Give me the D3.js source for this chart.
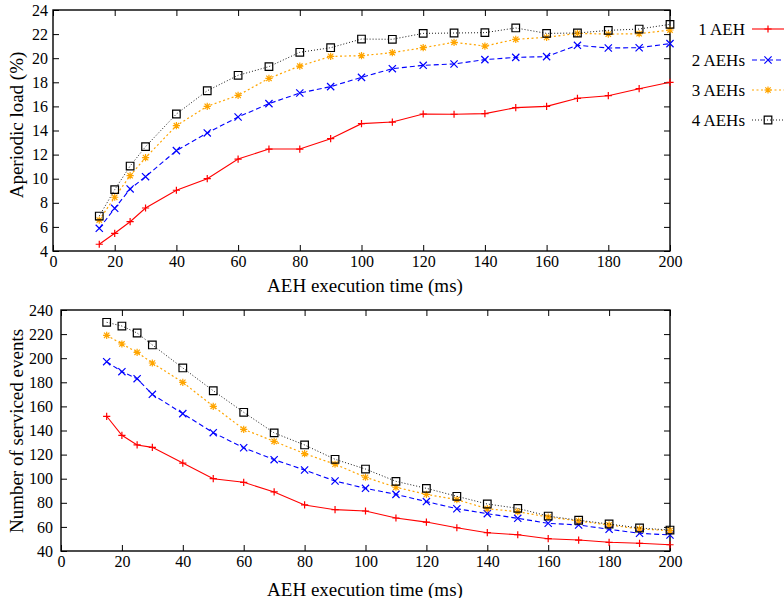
<!DOCTYPE html>
<html><head><meta charset="utf-8">
<script src="https://cdn.jsdelivr.net/npm/d3@7"></script>
<style>
body{margin:0;background:#fff;}
</style></head>
<body><svg id="c" width="784" height="598"></svg>
<script>
const execTimes = [15,20,25,30,40,50,60,70,80,90,100,110,120,130,140,150,160,170,180,190,200];
const seriesNames = ["1 AEH","2 AEHs","3 AEHs","4 AEHs"];
const load1 = [4.56,5.47,6.43,7.57,9.04,10.0,11.63,12.46,12.46,13.32,14.57,14.7,15.37,15.35,15.4,15.9,16.0,16.67,16.89,17.47,18.0];
const load2 = [5.88,7.54,9.15,10.17,12.33,13.8,15.12,16.23,17.11,17.64,18.41,19.13,19.41,19.52,19.88,20.07,20.13,21.07,20.85,20.87,21.21];
const load3 = [6.57,8.46,10.25,11.75,14.4,16.01,16.92,18.33,19.35,20.15,20.21,20.46,20.87,21.32,21.01,21.57,21.73,22.06,22.0,22.03,22.34];
const load4 = [6.9,9.09,11.05,12.66,15.37,17.3,18.58,19.3,20.49,20.87,21.59,21.57,22.06,22.09,22.12,22.51,22.06,22.09,22.31,22.42,22.81];
const events1 = [151.8,136,128,126,113,100,97,89,78.2,74.3,73.2,67.4,64,59.3,55.2,53.5,50.2,49.1,47.2,46.4,45.2];
const events2 = [197.1,188.8,183,170,154,138.2,125.7,115.8,107.2,98.1,92,87,81,75.1,71,67.1,63,61.6,58,54.7,53.3];
const events3 = [219,211.8,204.9,196,180,160.1,141,131,120.8,112,101.2,92.9,87,82.6,75.1,72.6,68.2,64.9,61.6,58.3,56.9];
const events4 = [229.8,226.7,220.9,211,191.9,173,155.1,138,128,116.1,108,97.8,92,85.4,79,75.4,69,65.5,62.4,59.1,57.4];
const xTicks = [0,20,40,60,80,100,120,140,160,180,200];
const loadTicks = [4,6,8,10,12,14,16,18,20,22,24];
const eventTicks = [40,60,80,100,120,140,160,180,200,220,240];

const FONT = "'Liberation Serif', 'Times New Roman', serif";

const styles = [
  {color:"#ff0000", dash:null, marker:"plus", width:1.1},
  {color:"#0000ff", dash:"5,3", marker:"cross", width:1.1},
  {color:"#ffa500", dash:"2,2.5", marker:"star", width:1.2},
  {color:"#000000", dash:"1,2", marker:"box", width:0.9}
];

function markerPath(type){
  const s=3.6;
  if(type==="plus") return `M${-s},0H${s}M0,${-s}V${s}`;
  if(type==="cross") return `M${-s},${-s}L${s},${s}M${-s},${s}L${s},${-s}`;
  if(type==="star") return `M${-s},0H${s}M0,${-s}V${s}M${-s*0.75},${-s*0.75}L${s*0.75},${s*0.75}M${-s*0.75},${s*0.75}L${s*0.75},${-s*0.75}`;
  const b=3.8; return `M${-b},${-b}H${b}V${b}H${-b}Z`;
}

const svg = d3.select("#c");

function drawPanel(cfg){
  const {left,right,top,bottom,yDomain,yTicks,series,yLabel,yLabelCenter,xLabelY,tickLabelGap} = cfg;
  const x = d3.scaleLinear().domain([0,200]).range([left,right]);
  const y = d3.scaleLinear().domain(yDomain).range([bottom,top]);
  const g = svg.append("g");
  const tl = 6;
  const ax = g.append("g");
  ax.append("g").attr("transform",`translate(0,${bottom})`)
    .call(d3.axisBottom(x).tickValues(xTicks).tickSize(-tl).tickPadding(tickLabelGap.x));
  ax.append("g").attr("transform",`translate(0,${top})`)
    .call(d3.axisTop(x).tickValues(xTicks).tickSize(-tl).tickFormat(""));
  ax.append("g").attr("transform",`translate(${left},0)`)
    .call(d3.axisLeft(y).tickValues(yTicks).tickSize(-tl).tickPadding(tickLabelGap.y));
  ax.append("g").attr("transform",`translate(${right},0)`)
    .call(d3.axisRight(y).tickValues(yTicks).tickSize(-tl).tickFormat(""));
  ax.selectAll(".domain").remove();
  ax.selectAll("g").attr("font-family",null);
  ax.selectAll(".tick line").attr("stroke","#000").attr("stroke-width",1);
  ax.selectAll(".tick text").attr("font-size",16).style("font-family",FONT).attr("fill","#000");
  g.append("rect").attr("x",left).attr("y",top).attr("width",right-left).attr("height",bottom-top)
    .attr("fill","none").attr("stroke","#000").attr("stroke-width",1.4);

  const line = d3.line().x((d,i)=>x(execTimes[i])).y(d=>y(d));
  series.forEach((vals,si)=>{
    const st = styles[si];
    g.append("path").datum(vals).attr("d",line).attr("fill","none")
      .attr("stroke",st.color).attr("stroke-width",st.width)
      .attr("stroke-dasharray",st.dash);
    g.selectAll(null).data(vals).enter().append("path")
      .attr("transform",(d,i)=>`translate(${x(execTimes[i])},${y(d)})`)
      .attr("d",markerPath(st.marker)).attr("fill","none")
      .attr("stroke",st.color).attr("stroke-width",1.2);
  });

  g.append("text").attr("x",365).attr("y",xLabelY).attr("text-anchor","middle")
    .attr("dominant-baseline","central").attr("font-size",19).style("font-family",FONT)
    .text("AEH execution time (ms)");
  g.append("text").attr("transform",`translate(16,${yLabelCenter}) rotate(-90)`)
    .attr("text-anchor","middle").attr("dominant-baseline","central")
    .attr("font-size",19).style("font-family",FONT).text(yLabel);
}

drawPanel({left:53,right:670,top:10,bottom:251,yDomain:[4,24],yTicks:loadTicks,
  series:[load1,load2,load3,load4],yLabel:"Aperiodic load (%)",yLabelCenter:125,xLabelY:285,
  tickLabelGap:{x:5,y:5}});
drawPanel({left:61,right:670,top:310,bottom:551,yDomain:[40,240],yTicks:eventTicks,
  series:[events1,events2,events3,events4],yLabel:"Number of serviced events",yLabelCenter:431,xLabelY:589,
  tickLabelGap:{x:5,y:8}});

// legend
const legendRows = [29,60,90,120];
const lg = svg.append("g");
seriesNames.forEach((name,i)=>{
  const st = styles[i];
  const yy = legendRows[i];
  lg.append("text").attr("x",745).attr("y",yy).attr("text-anchor","end")
    .attr("dominant-baseline","central").attr("font-size",17).style("font-family",FONT).text(name);
  lg.append("line").attr("x1",752).attr("x2",784).attr("y1",yy).attr("y2",yy)
    .attr("stroke",st.color).attr("stroke-width",st.width).attr("stroke-dasharray",st.dash);
  lg.append("path").attr("transform",`translate(768,${yy})`).attr("d",markerPath(st.marker))
    .attr("fill","none").attr("stroke",st.color).attr("stroke-width",1.2);
});
</script></body></html>
